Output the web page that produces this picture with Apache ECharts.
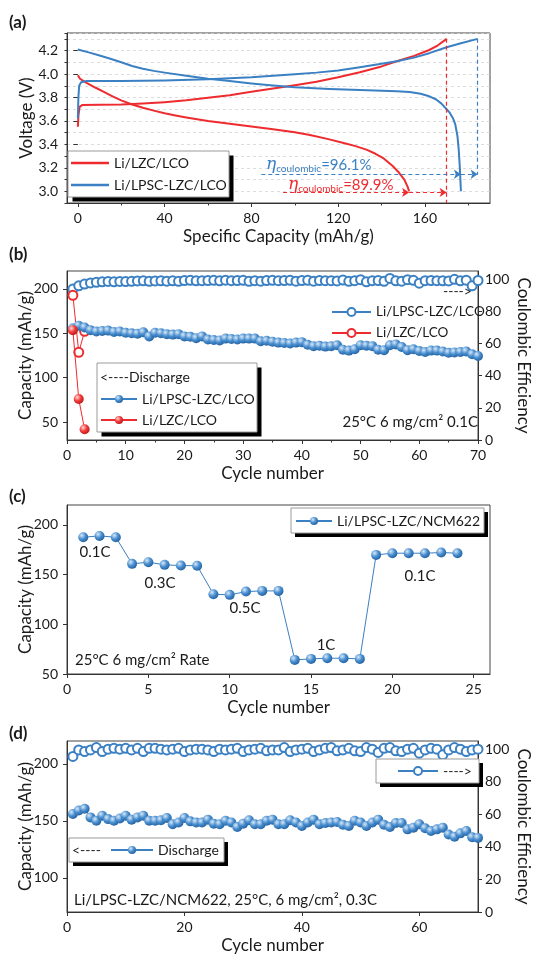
<!DOCTYPE html>
<html>
<head>
<meta charset="utf-8">
<script src="https://cdn.jsdelivr.net/npm/echarts@6.0.0/dist/echarts.min.js"></script>
<style>
  html, body { margin: 0; padding: 0; background: #fff; }
  #chart { width: 540px; height: 955px; }
</style>
</head>
<body>
<div id="chart"></div>
<script>
// ---------- (a) charge / discharge profiles ----------
const capRedCharge = [0, 0.3, 0.8, 2, 10, 20, 30, 40, 50, 60, 70, 80, 90, 100, 110, 120, 130, 140, 147, 155, 162, 166, 170];
const voltRedCharge = [3.55, 3.65, 3.72, 3.735, 3.737, 3.74, 3.748, 3.76, 3.776, 3.797, 3.82, 3.848, 3.877, 3.905, 3.935, 3.972, 4.015, 4.065, 4.109, 4.155, 4.205, 4.245, 4.3];
const capRedDischarge = [0, 1, 4, 8, 12, 16, 20, 25, 30, 35, 40, 45, 50, 60, 70, 80, 90, 100, 107, 115, 123, 128, 133, 137, 141, 145, 148, 150.5, 152, 152.7];
const voltRedDischarge = [3.99, 3.96, 3.925, 3.885, 3.848, 3.81, 3.775, 3.74, 3.712, 3.688, 3.665, 3.647, 3.63, 3.6, 3.575, 3.553, 3.53, 3.503, 3.48, 3.447, 3.41, 3.385, 3.355, 3.322, 3.28, 3.218, 3.16, 3.1, 3.04, 3.0];
const capBlueCharge = [0, 0.25, 0.6, 1.5, 4, 20, 40, 60, 80, 100, 110, 120, 130, 140, 147, 155, 162, 170, 177, 184.3];
const voltBlueCharge = [3.62, 3.8, 3.9, 3.93, 3.94, 3.941, 3.945, 3.955, 3.972, 3.998, 4.012, 4.031, 4.058, 4.087, 4.109, 4.14, 4.178, 4.228, 4.265, 4.3];
const capBlueDischarge = [0, 5, 10, 15, 20, 25, 30, 35, 40, 50, 60, 70, 80, 90, 100, 116, 130, 147, 153, 158, 162, 165, 167.5, 170, 171.5, 173, 174, 175, 175.6, 176.1, 176.6];
const voltBlueDischarge = [4.21, 4.185, 4.158, 4.13, 4.1, 4.068, 4.045, 4.027, 4.012, 3.985, 3.96, 3.94, 3.92, 3.902, 3.888, 3.873, 3.863, 3.853, 3.846, 3.832, 3.81, 3.785, 3.75, 3.7, 3.668, 3.62, 3.57, 3.47, 3.35, 3.2, 3.0];

// coulombic efficiency markers: [LZC, LPSC-LZC]
const chargeEnd = [170, 184.3];
const dischargeEnd = [152.7, 176.6];
const arrowLevel = [2.99, 3.145];
const arrowFrom = [94.6, 84.6];
const cutoffTop = 4.3;

// ---------- (b) cycling, LCO ----------
const ceBlueB = [93.8, 95.8, 96.9, 97.6, 98.0, 98.3, 98.5, 98.3, 98.5, 98.4, 98.6, 98.8, 98.9, 98.6, 98.8, 98.9, 98.7, 98.9, 98.6, 99.1,
  99.2, 98.9, 99.0, 99.1, 99.2, 98.9, 99.3, 99.0, 99.1, 99.2, 98.6, 99.0, 98.7, 99.1, 99.2, 99.0, 99.1, 99.2, 98.7, 99.1,
  99.2, 98.7, 99.1, 99.0, 99.0, 98.8, 99.4, 98.6, 99.0, 99.6, 98.3, 99.0, 99.1, 98.6, 100.4, 98.9, 98.7, 99.6, 99.2, 97.4,
  99.0, 99.1, 99.0, 98.9, 98.8, 99.8, 98.9, 99.3, 95.8, 99.1];
const ceRedB = [89.9, 54.5, 67.5];
const disBlueB = [155.5, 158.5, 156.5, 153.5, 152, 152.5, 153, 151.5, 152, 150.5, 150, 149.5, 151, 146.5, 150.5, 150, 149, 148.5, 149, 146.5,
  146, 144.5, 146.5, 143, 142.5, 142, 144, 143.5, 143, 144, 144, 144, 141, 141.5, 140.5, 139.5, 139, 138.5, 139.5, 140,
  137, 135.5, 136, 135, 135.5, 136.5, 131.5, 130.5, 132, 136.5, 136, 135.5, 131.5, 131, 136.5, 137.5, 134.5, 131, 132, 130,
  129, 130.5, 130.5, 129.5, 128, 128.5, 129, 129.5, 126.5, 124.5];
const disRedB = [153.5, 76, 42];

// ---------- (c) rate capability ----------
const rateCap = [187.6, 188.9, 187.6, 160.8, 162.5, 159.8, 159.1, 158.9, 130.3, 129.6, 132.9, 133.6, 133.6,
  64.2, 65.2, 65.9, 65.9, 65.2, 169.8, 171.5, 171.5, 171.5, 172.2, 171.5];
const rateLabels = ['0.1C', '0.3C', '0.5C', '1C', '0.1C'];

// ---------- (d) cycling, NCM622 ----------
const ceD = [95.5, 99.5, 98.5, 99.5, 101, 98.5, 100, 100.5, 100, 100.5, 99.5, 100.5, 98.5, 100.5, 100.5, 100, 99.5, 100, 100.5, 98.5,
  99.5, 100, 100, 99.5, 98.5, 100, 99.5, 100, 100.5, 98.5, 99.5, 100, 100.5, 99, 99.5, 99.5, 101, 98.5, 99.5, 100,
  100.5, 98.5, 99.5, 100.5, 101, 99, 99.5, 100.5, 99, 98.5, 101, 100, 98, 100.5, 101, 99, 98.5, 100, 100.5, 97.5,
  99.5, 100.5, 100, 96.5, 99.5, 101, 100, 98.5, 99.5, 100];
const disD = [156, 159, 160.5, 153, 150, 154.5, 151.5, 150, 152, 154.5, 151, 153, 154.5, 150, 150, 150.5, 152.5, 147, 148.5, 152.5,
  149.5, 148.5, 148.5, 151, 147.5, 147, 150, 148.5, 144.5, 147.5, 150.5, 147, 147, 150, 151, 147, 147, 150.5, 148.5, 145.5,
  148.5, 151, 147, 148, 148.5, 149, 146.5, 145.5, 150, 148.5, 145.5, 148.5, 151, 146.5, 144.5, 148, 148, 142.5, 144, 147,
  143.5, 141, 142.5, 144, 138, 136, 139, 141, 135.5, 135];

// ---------- helpers ----------
const FONT = 'Lato';
const TXT = '#1a1a1a';
const AX = '#333';
const RED = '#ee2b2f';
const BLUE = '#3b80c3';
const ball = (c0, c1, c2) => ({
  type: 'radial', x: 0.35, y: 0.32, r: 0.75,
  colorStops: [{ offset: 0, color: c0 }, { offset: 0.5, color: c1 }, { offset: 1, color: c2 }]
});
const blueBall = ball('#d8e9f8', '#4a8fd0', '#1f5d9c');
const redBall = ball('#ffd8d8', '#f23a3a', '#b81515');
const pairs = (xs, ys) => xs.map((x, i) => [x, ys[i]]);
const byCycle = ys => ys.map((y, i) => [i + 1, y]);

const L = 67, RGT = 50;
const grids = [
  { left: L, right: RGT, top: 33, height: 170 },
  { left: L, right: RGT, top: 271, height: 169 },
  { left: L, right: RGT, top: 505, height: 169 },
  { left: L, right: RGT, top: 741, height: 171 }
].map(g => Object.assign({ show: true, borderColor: '#444', borderWidth: 1, backgroundColor: '#fff' }, g));

const labelStyle = { color: TXT, fontSize: 14, fontFamily: FONT };
const nameStyle = { color: TXT, fontSize: 17, fontFamily: FONT };

function xAxisFor(grid, min, max, opts) {
  return {
    type: 'value', gridIndex: grid, min: min, max: max, position: 'bottom',
    interval: opts.interval,
    axisLine: { show: true, onZero: false, lineStyle: { color: AX, width: 1 } },
    axisTick: { show: true, inside: false, length: 4, customValues: opts.ticks, lineStyle: { color: AX } },
    minorTick: opts.minor ? { show: true, splitNumber: opts.minor, length: 2.5, lineStyle: { color: AX } } : { show: false },
    axisLabel: Object.assign({ customValues: opts.ticks, margin: 8 }, labelStyle),
    splitLine: { show: false },
    name: opts.name, nameLocation: 'middle', nameGap: 25, nameMoveOverlap: false, nameTextStyle: nameStyle
  };
}
function yAxisFor(grid, min, max, opts) {
  const right = opts.position === 'right';
  return {
    type: 'value', gridIndex: grid, min: min, max: max, position: opts.position || 'left',
    axisLine: { show: true, onZero: false, lineStyle: { color: AX, width: 1 } },
    axisTick: { show: true, inside: false, length: 4, customValues: opts.ticks, lineStyle: { color: AX } },
    axisLabel: Object.assign({ customValues: opts.ticks, margin: right ? 7 : 9 }, labelStyle),
    splitLine: { show: false },
    name: opts.name, nameLocation: 'middle', nameGap: right ? 37 : 33, nameMoveOverlap: false,
    nameRotate: right ? -90 : 90, nameTextStyle: nameStyle
  };
}

const xAxes = [
  xAxisFor(0, -5, 190, { ticks: [0, 40, 80, 120, 160], name: 'Specific Capacity (mAh/g)' }),
  // minor ticks for (a)
  {
    type: 'value', gridIndex: 0, min: -5, max: 190, position: 'bottom',
    axisLine: { show: false }, axisLabel: { show: false }, splitLine: { show: false },
    axisTick: { show: true, length: 2.5, customValues: [20, 60, 100, 140, 180], lineStyle: { color: AX } }
  },
  xAxisFor(1, 0, 70, { interval: 10, minor: 2, name: 'Cycle number' }),
  xAxisFor(2, 0, 26, { ticks: [0, 5, 10, 15, 20, 25], name: 'Cycle number' }),
  xAxisFor(3, 0, 70, { ticks: [0, 20, 40, 60], name: 'Cycle number' })
];
xAxes[2].axisTick.customValues = undefined;
xAxes[2].axisLabel.customValues = undefined;

const yA = {
  type: 'value', gridIndex: 0, min: 2.9, max: 4.35, interval: 0.1, position: 'left',
  axisLine: { show: true, onZero: false, lineStyle: { color: AX } },
  axisTick: { show: true, length: 2.5, lineStyle: { color: AX } },
  axisLabel: Object.assign({
    margin: 9,
    formatter: v => {
      const t = Math.round(v * 10);
      return (Math.abs(v * 10 - t) < 1e-6 && t % 2 === 0) ? (t / 10).toFixed(1) : '';
    }
  }, labelStyle),
  splitLine: { show: true, lineStyle: { color: '#d4d4d4', width: 0.8, type: [3, 3] } },
  name: 'Voltage (V)', nameLocation: 'middle', nameGap: 32, nameMoveOverlap: false, nameTextStyle: nameStyle
};
const yAmajor = {
  type: 'value', gridIndex: 0, min: 2.9, max: 4.35, position: 'left',
  axisLine: { show: false }, axisLabel: { show: false }, splitLine: { show: false },
  axisTick: { show: true, length: 4.5, customValues: [3.0, 3.2, 3.4, 3.6, 3.8, 4.0, 4.2], lineStyle: { color: AX } }
};
const ceTicks = [0, 20, 40, 60, 80, 100];
const yAxes = [
  yA, yAmajor,
  yAxisFor(1, 30, 220, { ticks: [50, 100, 150, 200], name: 'Capacity (mAh/g)' }),
  yAxisFor(1, 0, 105, { ticks: ceTicks, position: 'right', name: 'Coulombic Efficiency' }),
  yAxisFor(2, 50, 220, { ticks: [50, 100, 150, 200], name: 'Capacity (mAh/g)' }),
  yAxisFor(3, 70, 220, { ticks: [100, 150, 200], name: 'Capacity (mAh/g)' }),
  yAxisFor(3, 0, 105, { ticks: ceTicks, position: 'right', name: 'Coulombic Efficiency' })
];

const dash = color => ({ color: color, width: 1.2, type: [4, 3] });
const redMarks = {
  silent: true, animation: false, symbol: ['none', 'arrow'], symbolSize: 7,
  label: { show: false }, lineStyle: dash(RED),
  data: [
    [{ coord: [chargeEnd[0], cutoffTop], symbol: 'none' }, { coord: [chargeEnd[0], 2.9], symbol: 'none' }],
    [{ coord: [arrowFrom[0], arrowLevel[0]] }, { coord: [dischargeEnd[0], arrowLevel[0]] }],
    [{ coord: [dischargeEnd[0], arrowLevel[0]] }, { coord: [chargeEnd[0], arrowLevel[0]] }]
  ]
};
const blueMarks = {
  silent: true, animation: false, symbol: ['none', 'arrow'], symbolSize: 7,
  label: { show: false }, lineStyle: dash(BLUE),
  data: [
    [{ coord: [chargeEnd[1], cutoffTop], symbol: 'none' }, { coord: [chargeEnd[1], arrowLevel[1]], symbol: 'none' }],
    [{ coord: [arrowFrom[1], arrowLevel[1]] }, { coord: [dischargeEnd[1], arrowLevel[1]] }],
    [{ coord: [dischargeEnd[1], arrowLevel[1]] }, { coord: [chargeEnd[1], arrowLevel[1]] }]
  ]
};

function profile(name, data, color, marks) {
  return {
    name: name, type: 'line', xAxisIndex: 0, yAxisIndex: 0, data: data,
    symbol: 'none', smooth: false,
    lineStyle: { color: color, width: 2, join: 'round' }, itemStyle: { color: color },
    markLine: marks, z: 3
  };
}
function ballSeries(name, xi, yi, data, lineColor, fill, size) {
  return {
    name: name, type: 'line', xAxisIndex: xi, yAxisIndex: yi, data: data,
    symbol: 'circle', symbolSize: size || 10, showSymbol: true,
    lineStyle: { color: lineColor, width: 1 }, itemStyle: { color: fill, borderWidth: 0 }, z: 4
  };
}
function ringSeries(name, xi, yi, data, color) {
  return {
    name: name, type: 'line', xAxisIndex: xi, yAxisIndex: yi, data: data,
    symbol: 'emptyCircle', symbolSize: 9, showSymbol: true,
    lineStyle: { color: color, width: 1 }, itemStyle: { color: color, borderWidth: 1.2 }, z: 3
  };
}

const series = [
  profile('aRed', pairs(capRedCharge, voltRedCharge), RED, redMarks),
  profile('aRed', pairs(capRedDischarge, voltRedDischarge), RED),
  profile('aBlue', pairs(capBlueCharge, voltBlueCharge), BLUE, blueMarks),
  profile('aBlue', pairs(capBlueDischarge, voltBlueDischarge), BLUE),

  ringSeries('bCeB', 2, 3, byCycle(ceBlueB), BLUE),
  ringSeries('bCeR', 2, 3, byCycle(ceRedB), RED),
  ballSeries('bDisB', 2, 2, byCycle(disBlueB), BLUE, blueBall),
  ballSeries('bDisR', 2, 2, byCycle(disRedB), RED, redBall),

  ballSeries('cRate', 3, 4, byCycle(rateCap), BLUE, blueBall),

  ringSeries('dCe', 4, 6, byCycle(ceD), BLUE),
  ballSeries('dDis', 4, 5, byCycle(disD), BLUE, blueBall)
];

const legendNames = {
  aRed: 'Li/LZC/LCO', aBlue: 'Li/LPSC-LZC/LCO',
  bCeB: 'Li/LPSC-LZC/LCO', bCeR: 'Li/LZC/LCO',
  bDisB: 'Li/LPSC-LZC/LCO', bDisR: 'Li/LZC/LCO',
  cRate: 'Li/LPSC-LZC/NCM622', dCe: '---->', dDis: 'Discharge'
};
function legend(data, left, top, itemWidth, extra) {
  return Object.assign({
    data: data, left: left, top: top, orient: 'vertical', padding: 0,
    itemWidth: itemWidth, itemHeight: 10, itemGap: 7, selectedMode: false, z: 6,
    formatter: n => legendNames[n],
    textStyle: { color: TXT, fontSize: 14, fontFamily: FONT }
  }, extra || {});
}
const legends = [
  legend(['aRed', 'aBlue'], 71, 156, 38, { icon: 'rect', itemHeight: 2.5, itemGap: 8 }),
  legend(['bCeB', 'bCeR'], 331, 305, 39, { textStyle: { color: TXT, fontSize: 13.5, fontFamily: FONT } }),
  legend(['bDisB', 'bDisR'], 100, 392, 36),
  legend(['cRate'], 295, 514, 36),
  legend(['dCe'], 397, 764, 40),
  legend(['dDis'], 110, 843, 42)
];

// legend frames with hard black shadow
function frame(x, y, w, h, off) {
  return [
    { type: 'rect', z: 5, shape: { x: x + off, y: y + off, width: w, height: h }, style: { fill: '#000' } },
    { type: 'rect', z: 5, shape: { x: x, y: y, width: w, height: h }, style: { fill: '#fff', stroke: '#9a9a9a', lineWidth: 1 } }
  ];
}
function text(str, x, y, opts) {
  opts = opts || {};
  return {
    type: 'text', z: 7, x: x, y: y,
    style: {
      text: str, fill: opts.fill || TXT, fontSize: opts.size || 15, fontFamily: FONT,
      fontWeight: opts.weight || 'normal', align: opts.align || 'left', verticalAlign: 'middle',
      textAlign: opts.align || 'left', textVerticalAlign: 'middle'
    }
  };
}
function etaText(value, x, y, color) {
  return {
    type: 'text', z: 7, x: x, y: y,
    style: {
      text: '{e|η}{s|coulombic}{n|=' + value + '}', fill: color, fontFamily: FONT,
      verticalAlign: 'middle', textVerticalAlign: 'middle',
      rich: {
        e: { fontSize: 17, fontStyle: 'italic', fill: color, fontFamily: 'DejaVu Serif', lineHeight: 18, verticalAlign: 'middle' },
        s: { fontSize: 10, fill: color, fontFamily: FONT, lineHeight: 10, verticalAlign: 'bottom' },
        n: { fontSize: 15, fill: color, fontFamily: FONT, lineHeight: 18, verticalAlign: 'middle' }
      }
    }
  };
}

const graphics = [].concat(
  frame(68, 151, 161, 46, 4.5),
  frame(97, 363, 160, 69, 4.5),
  frame(291, 508, 193, 25, 4),
  frame(376, 759, 103, 24, 4),
  frame(69, 838, 155, 24, 4),
  [
    text('(a)', 9, 23, { size: 17, weight: 'bold' }),
    text('(b)', 9, 255, { size: 17, weight: 'bold' }),
    text('(c)', 9, 497, { size: 17, weight: 'bold' }),
    text('(d)', 9, 734, { size: 17, weight: 'bold' }),
    etaText('96.1%', 266, 165, BLUE),
    etaText('89.9%', 288, 185, RED),
    text('---->', 443, 291, { size: 14 }),
    text('25°C 6 mg/cm² 0.1C', 478, 422, { align: 'right' }),
    text('<----Discharge', 100, 377, { size: 14 }),
    text('25°C 6 mg/cm² Rate', 75, 660),
    text(rateLabels[0], 95, 552, { align: 'center' }),
    text(rateLabels[1], 160, 583, { align: 'center' }),
    text(rateLabels[2], 245, 608, { align: 'center' }),
    text(rateLabels[3], 326, 645, { align: 'center' }),
    text(rateLabels[4], 420, 576, { align: 'center' }),
    text('<----', 72, 850, { size: 14 }),
    text('Li/LPSC-LZC/NCM622, 25°C, 6 mg/cm², 0.3C', 74, 900)
  ]
);

const chart = echarts.init(document.getElementById('chart'));
chart.setOption({
  animation: false,
  backgroundColor: '#fff',
  textStyle: { fontFamily: FONT },
  grid: grids,
  xAxis: xAxes,
  yAxis: yAxes,
  legend: legends,
  series: series,
  graphic: { elements: graphics }
});
</script>
</body>
</html>
